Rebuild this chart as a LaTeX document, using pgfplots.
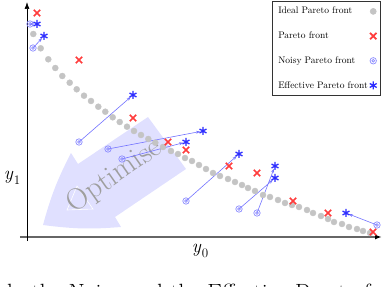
\documentclass[border=0pt]{standalone}
\usepackage{fontspec}
\usepackage{pgfplots}
\pgfplotsset{compat=1.18}
\usetikzlibrary{arrows.meta}
\definecolor{idealgray}{RGB}{196,196,196}
\definecolor{paretored}{RGB}{255,60,60}
\definecolor{noisyblue}{RGB}{140,140,255}
\definecolor{effblue}{RGB}{45,45,255}
\definecolor{arrowfill}{RGB}{224,224,255}
\pgfdeclareplotmark{ocirc}{%
  \pgfpathcircle{\pgfpointorigin}{\pgfplotmarksize}\pgfusepathqstroke
  \pgfpathcircle{\pgfpointorigin}{0.45\pgfplotmarksize}\pgfusepathqstroke}
\newcommand{\ylab}[1]{\textit{y}\kern0.5pt\raisebox{-0.28em}{\fontsize{13}{15}\selectfont #1}}
\begin{document}
\begin{tikzpicture}
\path[use as bounding box] (-27pt,-49pt) rectangle (355pt,237pt);
\clip (-27pt,-49pt) rectangle (355pt,237pt);
\begin{axis}[
  at={(0pt,0pt)}, anchor=origin,
  x=1pt, y=1pt,
  xmin=-7, xmax=355, ymin=-4, ymax=235,
  axis lines=middle,
  xtick=\empty, ytick=\empty,
  clip=false,
  x axis line style={black!60, line width=1.5pt, -{Latex[length=7pt,width=5pt,color=black]}},
  y axis line style={black, line width=0.7pt, -{Latex[length=7pt,width=5pt]}},
  xlabel={\ylab{0}}, ylabel={\ylab{1}},
  xlabel style={at={(axis cs:173,-14)}, anchor=center, font=\fontsize{19}{22}\selectfont},
  ylabel style={at={(axis cs:-15,59)}, anchor=center, rotate=0, font=\fontsize{19}{22}\selectfont},
  legend style={at={(axis cs:354,236)}, anchor=north east, draw=black!80, line width=0.6pt,
    font=\fontsize{9.5}{11}\selectfont, row sep=12.5pt, inner sep=4pt},
  legend cell align=left,
  legend plot pos=right,
]
% big "Optimise" arrow
\fill[arrowfill] (axis cs:121,120) -- (axis cs:159,68) -- (axis cs:88,20) -- (axis cs:94,10)
  to[bend left=6] (axis cs:16,12) to[bend left=6] (axis cs:44,84) -- (axis cs:51,73) -- cycle;
\draw[white, line width=0.6pt] (axis cs:50,51) -- (axis cs:40,27) -- (axis cs:66,28) -- cycle;
\node[rotate=35, text=black!38, font=\fontsize{30}{32}\selectfont] at (axis cs:88,61) {Optimise};

\addplot[only marks, mark=*, mark size=3pt, color=idealgray, mark options={draw=idealgray, fill=idealgray}] coordinates {
(6.3,203) (13.7,188.7) (21.3,177.7) (28.3,169) (35.3,161) (42.7,154.3) (49.7,147.7) (57,141.3)
(64,136) (71.3,130.3) (78.3,125.3) (85.7,119.7) (92.7,115) (100,110.3) (107,106) (114,102)
(121.3,98) (128.3,94.3) (136,90) (144,86) (151,83) (158,79) (165,76) (172,72) (179,68)
(186,64) (193,61) (201,58) (208,55) (215,52) (221,49) (228,46) (236,42) (243,40) (251,37)
(258,34) (265,32) (272,30) (280,27) (286,24) (294,21) (301,18) (307,15) (315,13) (322,10)
(330,8) (336,6) (343,4)};
\addlegendentry{Ideal Pareto front}

\addplot[only marks, mark=x, mark size=4.5pt, color=paretored, mark options={line width=1.7pt}] coordinates {
(10,224) (52,177) (106,119) (141,95) (159,87) (202,71) (230,64) (266,36) (301,24) (346,5)};
\addlegendentry{Pareto front}

% arrows from noisy to effective
\addplot[forget plot, color=blue!55, line width=0.6pt, -{Stealth[length=4pt,width=3pt]}, shorten >=3pt] coordinates {(3,213) (10,213)};
\addplot[forget plot, color=blue!55, line width=0.6pt, -{Stealth[length=4pt,width=3pt]}, shorten >=3pt] coordinates {(6,189) (17,201)};
\addplot[forget plot, color=blue!55, line width=0.6pt, -{Stealth[length=4pt,width=3pt]}, shorten >=3pt] coordinates {(52,95) (106,142)};
\addplot[forget plot, color=blue!55, line width=0.6pt, -{Stealth[length=4pt,width=3pt]}, shorten >=3pt] coordinates {(81,88) (176,106)};
\addplot[forget plot, color=blue!55, line width=0.6pt, -{Stealth[length=4pt,width=3pt]}, shorten >=3pt] coordinates {(95,78) (159,95)};
\addplot[forget plot, color=blue!55, line width=0.6pt, -{Stealth[length=4pt,width=3pt]}, shorten >=3pt] coordinates {(159,36) (212,83)};
\addplot[forget plot, color=blue!55, line width=0.6pt, -{Stealth[length=4pt,width=3pt]}, shorten >=3pt] coordinates {(212,28) (248,59)};
\addplot[forget plot, color=blue!55, line width=0.6pt, -{Stealth[length=4pt,width=3pt]}, shorten >=3pt] coordinates {(230,24) (248,71)};
\addplot[forget plot, color=blue!55, line width=0.6pt, -{Stealth[length=4pt,width=3pt]}, shorten >=3pt] coordinates {(350,12) (319,24)};

\addplot[only marks, mark=ocirc, mark size=3.2pt, color=noisyblue, mark options={line width=0.7pt}] coordinates {
(3,213) (6,189) (52,95) (81,88) (95,78) (159,36) (212,28) (230,24) (350,12)};
\addlegendentry{Noisy Pareto front}

\addplot[only marks, mark=asterisk, mark size=4pt, color=effblue, mark options={line width=1.3pt}] coordinates {
(10,213) (17,201) (106,142) (176,106) (159,95) (212,83) (248,71) (248,59) (319,24)};
\addlegendentry{Effective Pareto front}

\node[anchor=base west, font=\fontsize{23.5}{27}\selectfont, inner sep=0pt] at (axis cs:-20,-63) {ly the Noisy and the Effective Pareto fronts};
\end{axis}
\end{tikzpicture}
\end{document}
